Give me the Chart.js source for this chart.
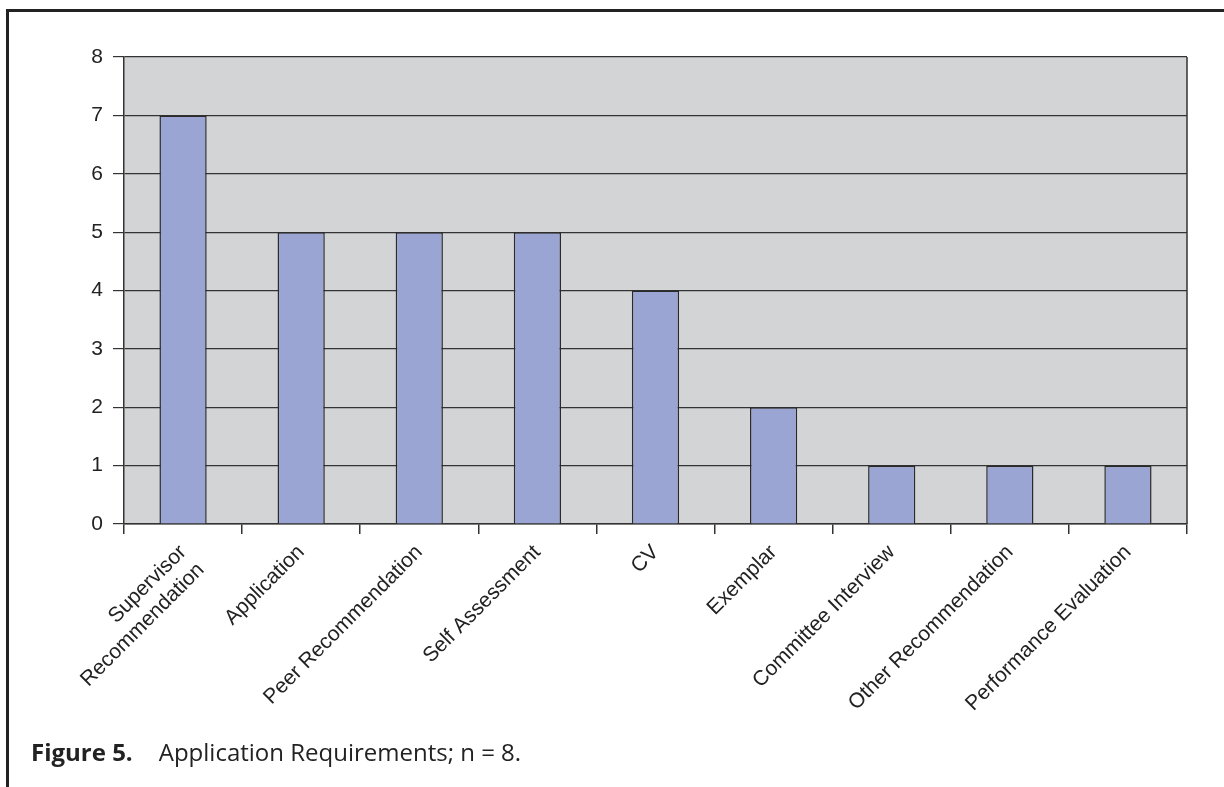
<!DOCTYPE html>
<html>
<head>
<meta charset="utf-8">
<script src="https://cdn.jsdelivr.net/npm/chart.js@4/dist/chart.umd.min.js"></script>
<style>
  html, body { margin: 0; padding: 0; background: #fff; }
  body { width: 1224px; height: 787px; position: relative; overflow: hidden; }
  #frame {
    position: absolute; left: 6px; top: 9px; width: 1230px; height: 800px;
    border-top: 3px solid #222; border-left: 3px solid #222;
  }
  #chart { position: absolute; left: 0; top: 0; }
  #caption {
    position: absolute; left: 31px; top: 740px;
    font-family: "Open Sans", sans-serif; font-size: 24px; line-height: 24px;
    color: #222; white-space: pre;
  }
  #caption b { font-weight: 700; margin-right: 26px; }
</style>
</head>
<body>
<div id="frame"></div>
<canvas id="chart" width="1224" height="787"></canvas>
<div id="caption"><b>Figure 5.</b>Application Requirements; n = 8.</div>
<script>
const categories = [
  ['Supervisor', 'Recommendation'],
  'Application',
  'Peer Recommendation',
  'Self Assessment',
  'CV',
  'Exemplar',
  'Committee Interview',
  'Other Recommendation',
  'Performance Evaluation'
];
const counts = [7, 5, 5, 5, 4, 2, 1, 1, 1];
const yTicks = [0, 1, 2, 3, 4, 5, 6, 7, 8];

const plotBackground = {
  id: 'plotBackground',
  beforeDraw(chart) {
    const a = chart.chartArea;
    const ctx = chart.ctx;
    ctx.save();
    ctx.fillStyle = '#D3D4D6';
    ctx.fillRect(a.left, a.top, a.right - a.left, a.bottom - a.top);
    ctx.restore();
  },
  afterDraw(chart) {
    const a = chart.chartArea;
    const ctx = chart.ctx;
    ctx.save();
    ctx.strokeStyle = '#333';
    ctx.lineWidth = 1.5;
    ctx.beginPath();
    ctx.moveTo(a.right, a.top);
    ctx.lineTo(a.right, a.bottom);
    ctx.stroke();
    ctx.restore();
  }
};

Chart.defaults.font.family = '"Liberation Sans", Arial, sans-serif';
Chart.defaults.color = '#222';

new Chart(document.getElementById('chart'), {
  type: 'bar',
  data: {
    labels: categories,
    datasets: [{
      data: counts,
      backgroundColor: '#9AA5D3',
      borderColor: '#2a2a2a',
      borderWidth: 1.5,
      categoryPercentage: 1,
      barPercentage: 0.4
    }]
  },
  options: {
    responsive: false,
    animation: false,
    devicePixelRatio: 1,
    layout: { padding: { left: 0, top: 57, right: 37, bottom: 0 } },
    plugins: { legend: { display: false }, tooltip: { enabled: false } },
    scales: {
      x: {
        grid: { drawOnChartArea: false, drawTicks: true, tickLength: 10, color: '#333', lineWidth: 1.5 },
        border: { display: true, color: '#333', width: 1.5 },
        ticks: {
          autoSkip: false, minRotation: 45, maxRotation: 45, padding: 6,
          font: { size: 21 }, color: '#222'
        },
        afterFit(scale) { scale.height = 263; }
      },
      y: {
        min: 0, max: 8,
        afterBuildTicks(scale) { scale.ticks = yTicks.map(v => ({ value: v })); },
        grid: { color: '#333', lineWidth: 1.2, tickLength: 11 },
        border: { display: true, color: '#333', width: 1.5 },
        ticks: { padding: 10, font: { size: 21 }, color: '#222' },
        afterFit(scale) { scale.width = 124; }
      }
    }
  },
  plugins: [plotBackground]
});
</script>
</body>
</html>
